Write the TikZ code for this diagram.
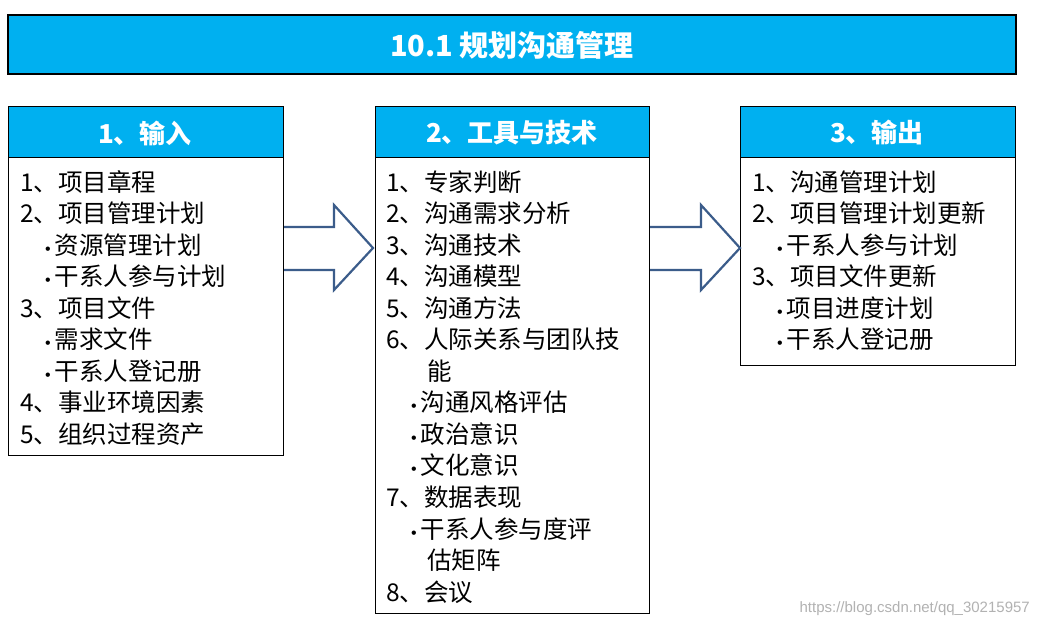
\documentclass[tikz,border=0pt]{standalone}
\usepackage{fontspec}
\setmainfont{Noto Sans CJK SC}
\newfontfamily\wm{Liberation Sans}
\newcommand\bul{{\wm\fontsize{16}{16}\selectfont •}\hspace{4pt}}
\definecolor{hdr}{HTML}{00B0F0}
\definecolor{arr}{HTML}{3B5C8A}
\tikzset{
 hbox/.style={draw=black,line width=1pt,fill=hdr},
 bodybox/.style={draw=black,line width=1pt,fill=white},
 itm/.style={anchor=west,inner sep=0pt,font=\fontsize{24.5}{26}\selectfont},
 hd/.style={font=\fontsize{26}{28}\selectfont\bfseries,text=white},
 blk/.style={draw=arr,line width=2.2pt,fill=white,line join=miter}
}
\begin{document}
\begin{tikzpicture}[x=1pt,y=-1pt]
\useasboundingbox (0,0) rectangle (1040,628);
\fill[white] (0,0) rectangle (1040,628);
% title
\draw[hbox,line width=1.5pt] (8,15) rectangle (1016,74);
\node[font=\fontsize{29}{31}\selectfont\bfseries,text=white] (title) at (512,45) {10.1 规划沟通管理};
% boxes
\draw[bodybox] (8,107) rectangle (283,455);
\draw[hbox] (8,107) rectangle (283,158);
\node[hd] (h1) at (145,133) {1、输入};
\draw[bodybox] (375,107) rectangle (649,613);
\draw[hbox] (375,107) rectangle (649,158);
\node[hd] (h2) at (512,133) {2、工具与技术};
\draw[bodybox] (740,107) rectangle (1015,365);
\draw[hbox] (740,107) rectangle (1015,158);
\node[hd] (h3) at (877,133) {3、输出};
% arrows
\draw[blk] (284,227) -- (334,227) -- (334,205) -- (373,248) -- (334,290) -- (334,270) -- (284,270);
\draw[blk] (650,227) -- (701,227) -- (701,205) -- (740,248) -- (701,290) -- (701,270) -- (650,270);
% left
\node[itm] (a1) at (20,182) {1、项目章程};
\node[itm] (a2) at (20,213) {2、项目管理计划};
\node[itm] (a3) at (45,245) {\bul 资源管理计划};
\node[itm] (a4) at (45,276) {\bul 干系人参与计划};
\node[itm] (a5) at (20,308) {3、项目文件};
\node[itm] (a6) at (45,339) {\bul 需求文件};
\node[itm] (a7) at (45,371) {\bul 干系人登记册};
\node[itm] (a8) at (20,402) {4、事业环境因素};
\node[itm] (a9) at (20,434) {5、组织过程资产};
% middle
\node[itm] (b1) at (386,182) {1、专家判断};
\node[itm] (b2) at (386,213) {2、沟通需求分析};
\node[itm] (b3) at (386,245) {3、沟通技术};
\node[itm] (b4) at (386,276) {4、沟通模型};
\node[itm] (b5) at (386,308) {5、沟通方法};
\node[itm] (b6) at (386,339) {6、人际关系与团队技};
\node[itm] (b6b) at (427,371) {能};
\node[itm] (b7) at (411,402) {\bul 沟通风格评估};
\node[itm] (b8) at (411,434) {\bul 政治意识};
\node[itm] (b9) at (411,465) {\bul 文化意识};
\node[itm] (b10) at (386,497) {7、数据表现};
\node[itm] (b11) at (411,529) {\bul 干系人参与度评};
\node[itm] (b11b) at (427,560) {估矩阵};
\node[itm] (b12) at (386,592) {8、会议};
% right
\node[itm] (c1) at (752,182) {1、沟通管理计划};
\node[itm] (c2) at (752,213) {2、项目管理计划更新};
\node[itm] (c3) at (777,245) {\bul 干系人参与计划};
\node[itm] (c4) at (752,276) {3、项目文件更新};
\node[itm] (c5) at (777,308) {\bul 项目进度计划};
\node[itm] (c6) at (777,339) {\bul 干系人登记册};
\node[anchor=east,inner sep=0pt,text=black!30,font=\wm\fontsize{15}{16}\selectfont] (wmk) at (1030,609) {https://blog.csdn.net/qq\_30215957};
\end{tikzpicture}
\end{document}
